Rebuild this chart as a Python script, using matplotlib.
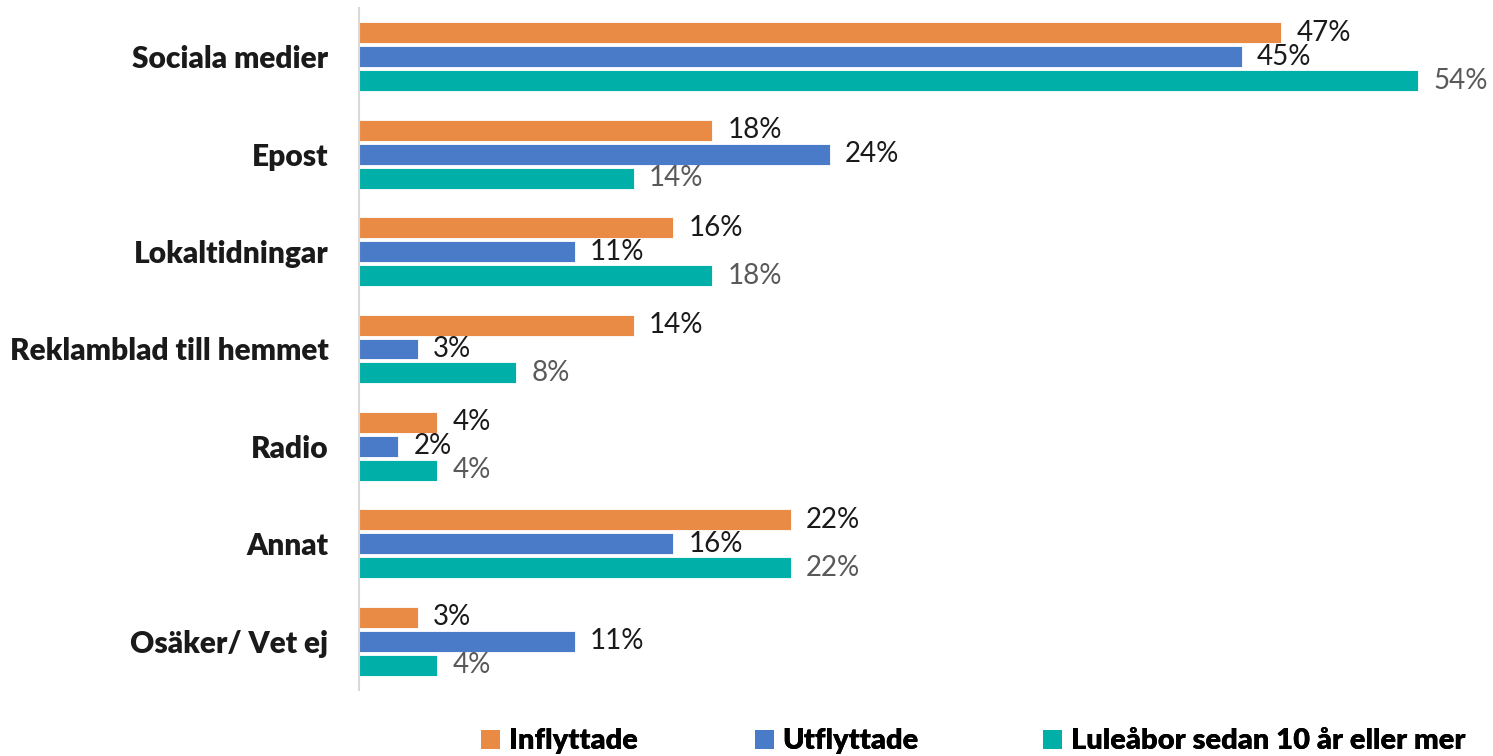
import matplotlib
matplotlib.use("Agg")
import matplotlib.pyplot as plt
import numpy as np
from matplotlib.patches import Patch

categories = ["Sociala medier", "Epost", "Lokaltidningar", "Reklamblad till hemmet",
              "Radio", "Annat", "Osäker/ Vet ej"]
series_names = ["Inflyttade", "Utflyttade", "Luleåbor sedan 10 år eller mer"]
inflyttade = [47, 18, 16, 14, 4, 22, 3]
utflyttade = [45, 24, 11, 3, 2, 16, 11]
luleabor = [54, 14, 18, 8, 4, 22, 4]

colors = ["#EA8B45", "#4A7BC8", "#00B0A8"]
label_colors = ["#1a1a1a", "#1a1a1a", "#595959"]

plt.rcParams["font.family"] = ["Lato", "DejaVu Sans"]

fig = plt.figure(figsize=(14.93, 7.56), dpi=100)
ax = fig.add_axes([359 / 1493, 1 - 690 / 756, 1 - 359 / 1493, (690 - 8) / 756])

y = np.arange(len(categories))
step = 0.246
bar_h = 0.215
for k, (vals, c, lc) in enumerate(zip([inflyttade, utflyttade, luleabor], colors, label_colors)):
    pos = y + (k - 1) * step
    ax.barh(pos, vals, height=bar_h, color=c, edgecolor="white", linewidth=0.6)
    for p, v in zip(pos, vals):
        ax.annotate(f"{v}%", (v, p), xytext=(11, 0), textcoords="offset points",
                    va="center", ha="left", fontsize=20, color=lc)

ax.set_xlim(0, 57.8)
ax.set_ylim(len(categories) - 0.5, -0.5)
ax.set_yticks(y)
ax.set_yticklabels(categories, fontsize=21.5, fontweight="heavy", color="#1a1a1a")
ax.tick_params(axis="y", length=0, pad=22)
ax.set_xticks([])
for s in ["top", "right", "bottom"]:
    ax.spines[s].set_visible(False)
ax.spines["left"].set_color("#d9d9d9")
ax.spines["left"].set_linewidth(1.5)

# one legend per entry so each sits where the reference puts it
legend_x = [481, 755, 1043]
for c, n, lx in zip(colors, series_names, legend_x):
    leg = fig.legend(handles=[Patch(facecolor=c, label=n)], loc="lower left",
                     bbox_to_anchor=(lx / 1493, 0.002), frameon=False,
                     prop={"weight": "heavy", "size": 21},
                     handlelength=0.65, handleheight=0.65, handletextpad=0.3,
                     borderpad=0, borderaxespad=0)
    fig.add_artist(leg)

fig.savefig("out.png", dpi=100)
